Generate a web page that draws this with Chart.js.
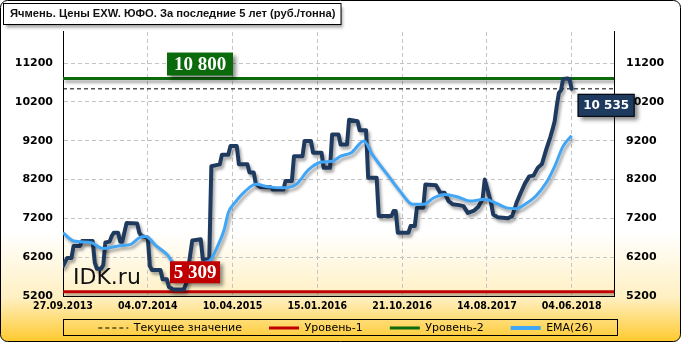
<!DOCTYPE html>
<html>
<head>
<meta charset="utf-8">
<script src="https://cdn.jsdelivr.net/npm/chart.js@4.4.1/dist/chart.umd.min.js"></script>
<style>
html, body { margin: 0; padding: 0; background: #fff; }
</style>
</head>
<body>
<canvas id="chart_box" width="681" height="342"></canvas>
<script>
var titleText = "Ячмень. Цены EXW. ЮФО. За последние 5 лет (руб./тонна)";
var dateLabels = ["27.09.2013", "04.07.2014", "10.04.2015", "15.01.2016", "21.10.2016", "14.08.2017", "04.06.2018"];
var dateTickIdx = [0, 40, 80, 120, 160, 200, 240];
var yTicks = [5200, 6200, 7200, 8200, 9200, 10200, 11200];

// weekly price, index = week number from 27.09.2013
var priceIdx = [0, 2, 4, 5, 8, 9, 14, 15, 16, 18, 19, 20, 22, 23, 24, 26, 27, 28, 30, 35, 36, 37, 40, 41, 42, 46, 47, 49, 50, 52, 57, 58, 61, 65, 66, 69, 70, 74, 75, 78, 79, 82, 83, 87, 88, 90, 91, 93, 98, 99, 104, 105, 108, 109, 113, 114, 117, 118, 122, 123, 126, 127, 130, 131, 134, 135, 139, 140, 143, 144, 148, 149, 155, 156, 157, 158, 163, 164, 166, 167, 170, 171, 176, 178, 180, 182, 184, 187, 189, 191, 194, 196, 198, 199, 200, 202, 203, 205, 210, 212, 214, 216, 218, 220, 222, 224, 226, 228, 230, 231, 232, 233, 234, 235, 236, 238, 239, 240];
var priceVal = [5970, 6180, 6180, 6490, 6490, 6615, 6615, 6060, 5900, 5900, 6000, 6580, 6600, 6745, 6830, 6830, 6600, 6600, 7080, 7070, 6830, 6745, 6700, 5970, 5870, 5870, 5630, 5630, 5430, 5370, 5370, 5500, 6630, 6660, 6140, 6140, 8540, 8590, 8840, 8840, 9060, 9060, 8590, 8590, 8380, 8380, 8080, 8010, 8000, 7940, 7940, 8160, 8160, 8800, 8800, 9190, 9190, 8890, 8890, 8500, 8500, 9360, 9360, 9100, 9100, 9740, 9700, 9470, 9470, 8245, 8245, 7260, 7260, 7390, 7390, 6830, 6830, 7000, 7000, 7475, 7475, 8070, 8050, 7860, 7860, 7640, 7560, 7540, 7515, 7340, 7400, 7500, 7700, 8200, 8000, 7600, 7300, 7230, 7200, 7260, 7600, 7860, 8100, 8280, 8300, 8500, 8600, 8970, 9300, 9490, 9700, 10100, 10430, 10500, 10790, 10800, 10790, 10535];

var emaIdx = [0, 5, 13, 19, 26, 32, 36, 39, 44, 49, 52, 58, 64, 69, 73, 76, 78, 81, 86, 91, 97, 104, 110, 116, 122, 127, 131, 136, 142, 146, 153, 159, 165, 170, 175, 180, 186, 192, 199, 204, 209, 214, 218, 223, 228, 232, 236, 240];
var emaVal = [6830, 6615, 6575, 6420, 6490, 6530, 6700, 6730, 6490, 6275, 6060, 5950, 6050, 6100, 6490, 6900, 7345, 7600, 7900, 8075, 8010, 7985, 8075, 8460, 8650, 8670, 8800, 8890, 9190, 8840, 8330, 7900, 7560, 7560, 7730, 7815, 7755, 7645, 7690, 7600, 7475, 7450, 7560, 7770, 8115, 8540, 9060, 9330];

var level1 = 5309;
var level2 = 10800;
var currentValue = 10535;
var lastIdx = 240;
var xMax = 260;
var yMin = 5200, yMax = 12000;

var NAVY = '#1f3a5f';
var EMA_BLUE = '#41a6f5';
var RED = '#c00000';
var GREEN = '#0b6a0b';
var TITLE_FONT = {family: '"Liberation Sans", Arial', size: 11.2, weight: 'bold'};

function pts(xs, ys) {
    return xs.map(function (x, i) { return {x: x, y: ys[i]}; });
}
function flat(v) {
    return [{x: 0, y: v}, {x: xMax, y: v}];
}
function fmt(v) {
    return String(v).replace(/\B(?=(\d{3})+(?!\d))/g, ' ');
}

//----------------------------
// background, title box, legend box
//----------------------------
var framePlugin = {
    id: 'frame',
    beforeDraw: function (chart) {
        var ctx = chart.ctx, w = chart.width, h = chart.height;
        ctx.save();
        var g = ctx.createLinearGradient(0, 0, 0, h);
        g.addColorStop(0, '#ffffff');
        g.addColorStop(0.68, '#ffffff');
        g.addColorStop(0.87, '#fff0c2');
        g.addColorStop(1, '#ffc92c');
        ctx.fillStyle = g;
        ctx.beginPath();
        ctx.roundRect(0.5, 0.5, w - 1, h - 1, 7);
        ctx.fill();
        ctx.lineWidth = 1;
        ctx.strokeStyle = '#000';
        ctx.stroke();

        // title box
        ctx.font = 'bold 11.2px "Liberation Sans", Arial';
        var tw = ctx.measureText(titleText).width;
        ctx.save();
        ctx.shadowColor = 'rgba(0,0,0,0.4)';
        ctx.shadowOffsetX = 2;
        ctx.shadowOffsetY = 3;
        ctx.shadowBlur = 3;
        ctx.fillStyle = '#fff';
        ctx.fillRect(3.5, 3.5, tw + 12, 21);
        ctx.restore();
        ctx.strokeStyle = '#000';
        ctx.strokeRect(3.5, 3.5, tw + 12, 21);

        // legend box
        var a = chart.chartArea;
        ctx.strokeRect(a.left + 0.5, h - 22.5, a.right - a.left + 3, 16);
        ctx.restore();
    },
    beforeDatasetsDraw: function (chart) {
        var ctx = chart.ctx, a = chart.chartArea;
        ctx.save();
        ctx.font = '22px "DejaVu Sans"';
        ctx.fillStyle = '#111';
        ctx.textBaseline = 'alphabetic';
        ctx.fillText('IDK.ru', a.left + 10, 284);
        ctx.restore();
    },
    beforeDatasetDraw: function (chart, args) {
        var ds = chart.data.datasets[args.index];
        chart.ctx.save();
        if (ds.shadowOn) {
            chart.ctx.shadowColor = 'rgba(0,0,0,0.35)';
            chart.ctx.shadowOffsetX = 2;
            chart.ctx.shadowOffsetY = 3;
            chart.ctx.shadowBlur = 3;
        }
    },
    afterDatasetDraw: function (chart) {
        chart.ctx.restore();
    },
    afterDatasetsDraw: function (chart) {
        var ctx = chart.ctx, a = chart.chartArea;
        var xs = chart.scales.x, ys = chart.scales.y;
        drawTag(ctx, fmt(level2), a.left + 104, ys.getPixelForValue(level2) - 26, 66, 23, GREEN, 'bold 19px "Liberation Serif"', null);
        drawTag(ctx, fmt(level1), a.left + 107, ys.getPixelForValue(level1) - 30.5, 50, 22, RED, 'bold 19px "Liberation Serif"', null);
        drawTag(ctx, fmt(currentValue), xs.getPixelForValue(lastIdx) + 6, ys.getPixelForValue(currentValue) + 5, 57, 23, NAVY, 'bold 12px "DejaVu Sans"', '#000');
    },
    afterLayout: function (chart) {
        // keep the legend row inside its box
        var lg = chart.legend;
        lg.top = chart.height - 14 - lg.options.labels.padding - 5.5;
    }
};

function drawTag(ctx, text, x, y, w, h, bg, font, border) {
    ctx.save();
    ctx.shadowColor = 'rgba(0,0,0,0.45)';
    ctx.shadowOffsetX = 3;
    ctx.shadowOffsetY = 3;
    ctx.shadowBlur = 4;
    ctx.fillStyle = bg;
    ctx.fillRect(x, y, w, h);
    ctx.restore();
    ctx.save();
    if (border) {
        ctx.strokeStyle = border;
        ctx.lineWidth = 1;
        ctx.strokeRect(x + 0.5, y + 0.5, w - 1, h - 1);
    }
    ctx.fillStyle = '#fff';
    ctx.font = font;
    ctx.textAlign = 'center';
    ctx.textBaseline = 'middle';
    ctx.fillText(text, x + w / 2, y + h / 2 + 1);
    ctx.restore();
}

var legendItems = [
    {text: 'Текущее значение', strokeStyle: '#000', lineWidth: 1, lineDash: [4, 3]},
    {text: 'Уровень-1', strokeStyle: RED, lineWidth: 3, lineDash: []},
    {text: 'Уровень-2', strokeStyle: GREEN, lineWidth: 3, lineDash: []},
    {text: 'EMA(26)', strokeStyle: EMA_BLUE, lineWidth: 4, lineDash: []}
];

Chart.defaults.font.family = '"DejaVu Sans"';
Chart.defaults.color = '#000';

var ctx = document.getElementById('chart_box').getContext('2d');
var chart = new Chart(ctx, {
    type: 'line',
    data: {
        datasets: [{
            label: 'EMA(26)',
            data: pts(emaIdx, emaVal),
            borderColor: EMA_BLUE,
            borderWidth: 3,
            cubicInterpolationMode: 'monotone',
            pointRadius: 0,
            fill: false,
            shadowOn: true
        }, {
            label: 'Цена',
            data: pts(priceIdx, priceVal),
            borderColor: NAVY,
            borderWidth: 4,
            borderJoinStyle: 'round',
            borderCapStyle: 'round',
            tension: 0,
            pointRadius: 0,
            fill: false,
            shadowOn: true
        }, {
            label: 'Текущее значение',
            data: flat(currentValue),
            borderColor: '#000',
            borderWidth: 1,
            borderDash: [4, 3],
            pointRadius: 0,
            fill: false
        }, {
            label: 'Уровень-2',
            data: flat(level2),
            borderColor: GREEN,
            borderWidth: 3,
            pointRadius: 0,
            fill: false,
            shadowOn: true
        }, {
            label: 'Уровень-1',
            data: flat(level1),
            borderColor: RED,
            borderWidth: 3,
            pointRadius: 0,
            fill: false,
            shadowOn: true
        }]
    },
    options: {
        responsive: false,
        animation: false,
        layout: {padding: {left: 10, right: 0, top: 0, bottom: 0}},
        scales: {
            x: {
                type: 'linear',
                min: 0,
                max: xMax,
                afterBuildTicks: function (s) {
                    s.ticks = dateTickIdx.map(function (v) { return {value: v}; });
                },
                afterFit: function (s) { s.height = 18; },
                ticks: {
                    autoSkip: false,
                    maxRotation: 0,
                    padding: 4,
                    font: {family: '"DejaVu Sans Condensed", "DejaVu Sans"', size: 10.5, weight: 'bold'},
                    callback: function (v) { return dateLabels[dateTickIdx.indexOf(v)]; }
                },
                grid: {color: '#c4c4c4', lineWidth: 1, drawTicks: false},
                border: {display: true, color: '#000', width: 1, dash: [4, 3]}
            },
            y: {
                position: 'left',
                min: yMin,
                max: yMax,
                afterBuildTicks: function (s) {
                    s.ticks = yTicks.map(function (v) { return {value: v}; });
                },
                afterFit: function (s) { s.width = 53; },
                ticks: {
                    padding: 10,
                    font: {size: 11, weight: 'bold'},
                    callback: function (v) { return String(v); }
                },
                grid: {color: '#c4c4c4', lineWidth: 1, drawTicks: false},
                border: {display: true, color: '#000', width: 1, dash: [4, 3]}
            },
            y2: {
                position: 'right',
                min: yMin,
                max: yMax,
                afterBuildTicks: function (s) {
                    s.ticks = yTicks.map(function (v) { return {value: v}; });
                },
                afterFit: function (s) { s.width = 67; },
                ticks: {
                    padding: 12,
                    font: {size: 11, weight: 'bold'},
                    callback: function (v) { return String(v); }
                },
                grid: {display: false, drawTicks: false},
                border: {display: true, color: '#000', width: 1}
            }
        },
        plugins: {
            title: {
                display: true,
                text: titleText,
                align: 'start',
                color: '#111',
                font: TITLE_FONT,
                padding: {top: 7.5, bottom: 11}
            },
            legend: {
                display: true,
                position: 'bottom',
                maxHeight: 28,
                labels: {
                    usePointStyle: true,
                    pointStyleWidth: 30,
                    padding: 27,
                    color: '#000',
                    font: {size: 11},
                    generateLabels: function () {
                        return legendItems.map(function (it, i) {
                            return {
                                text: it.text,
                                strokeStyle: it.strokeStyle,
                                fillStyle: it.strokeStyle,
                                lineWidth: it.lineWidth,
                                lineDash: it.lineDash,
                                pointStyle: 'line',
                                fontColor: '#000',
                                hidden: false,
                                datasetIndex: i
                            };
                        });
                    }
                }
            },
            tooltip: {enabled: false}
        }
    },
    plugins: [framePlugin]
});
</script>
</body>
</html>
